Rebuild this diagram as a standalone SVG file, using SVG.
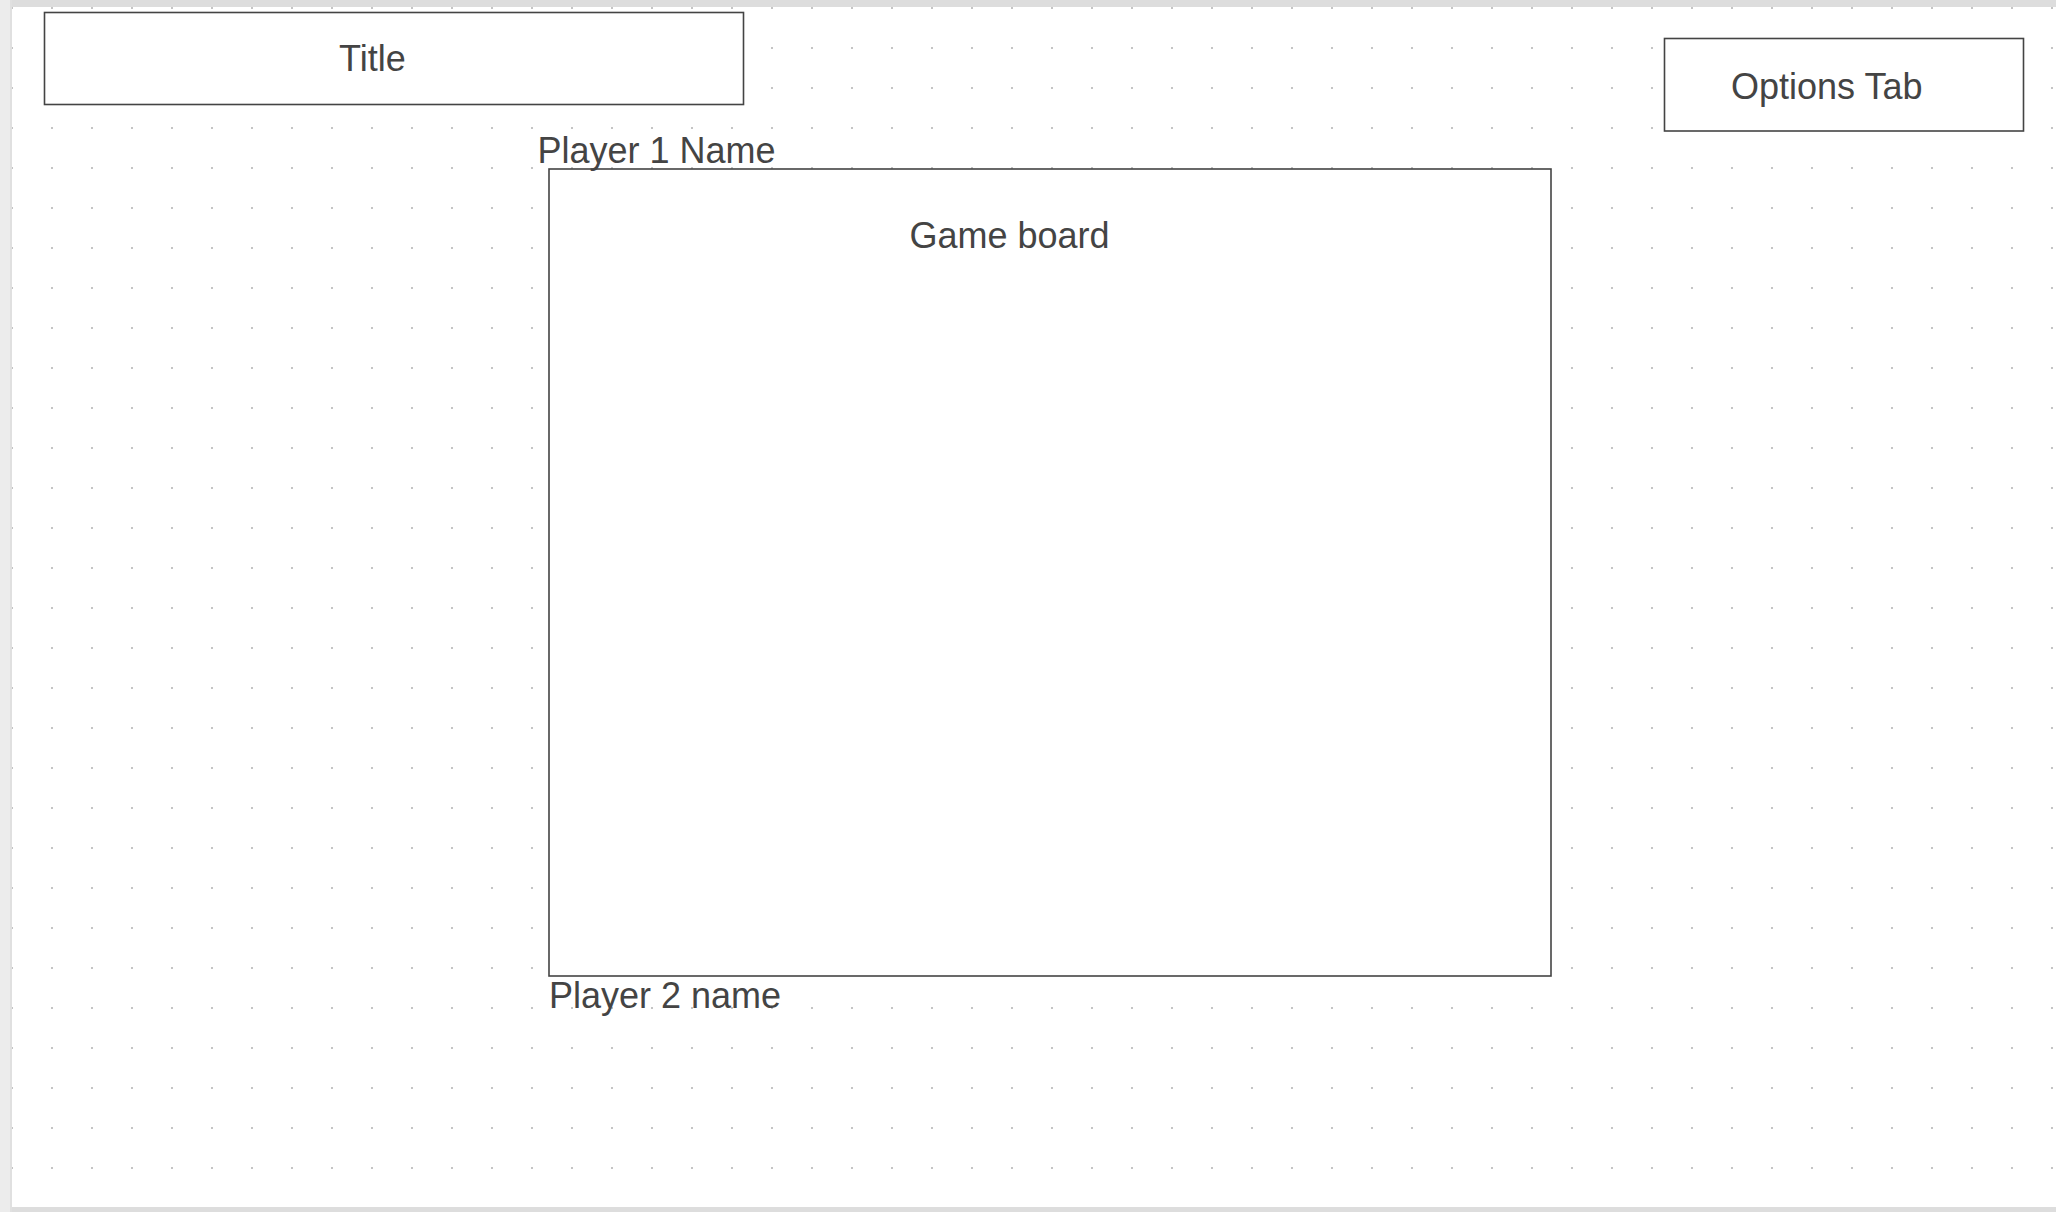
<svg xmlns="http://www.w3.org/2000/svg" width="2056" height="1212" viewBox="0 0 2056 1212">
  <defs>
    <pattern id="dots" x="0" y="0" width="40" height="40" patternUnits="userSpaceOnUse">
      <rect x="11" y="7" width="2" height="2" fill="#c4c4c4"/>
    </pattern>
    <style>
      .box { fill: #ffffff; stroke: #444444; stroke-width: 1.6; }
      .lbl { font-family: "Liberation Sans", Arial, sans-serif; font-size: 36px; fill: #444444; }
    </style>
  </defs>
  <rect x="0" y="0" width="2056" height="1212" fill="#ffffff"/>
  <rect x="12" y="7" width="2044" height="1200" fill="url(#dots)"/>
  <rect x="0" y="0" width="2056" height="7" fill="#dddddd"/>
  <rect x="0" y="1207" width="2056" height="5" fill="#dddddd"/>
  <rect x="0" y="0" width="10" height="1212" fill="#ececec"/>
  <rect x="10" y="0" width="2" height="1212" fill="#e0e0e0"/>

  <g id="title">
    <rect class="box" x="44.5" y="12.5" width="699" height="92"/>
    <text class="lbl" x="339" y="70.5">Title</text>
  </g>
  <g id="options-tab">
    <rect class="box" x="1664.5" y="38.5" width="359" height="92.5"/>
    <text class="lbl" x="1731" y="99">Options Tab</text>
  </g>
  <g id="game-board">
    <rect class="box" x="549" y="169" width="1002" height="807"/>
    <text class="lbl" x="909.5" y="247.5">Game board</text>
  </g>
  <g id="player1">
    <text class="lbl" x="537.5" y="162.5">Player 1 Name</text>
  </g>
  <g id="player2">
    <text class="lbl" x="549" y="1007.5">Player 2 name</text>
  </g>
  <g id="connectors"></g>
</svg>
